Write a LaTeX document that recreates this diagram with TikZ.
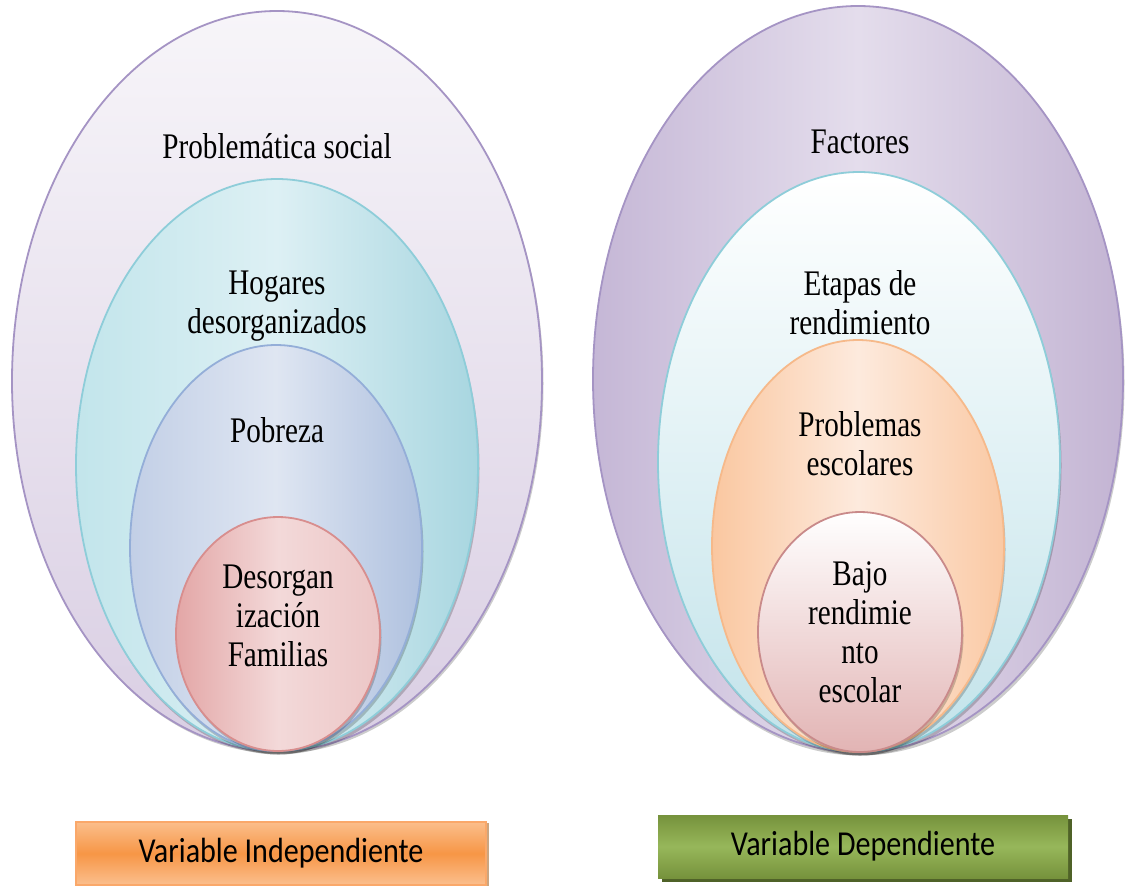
\documentclass[tikz,border=0pt]{standalone}
\usepackage{fontspec}
\setmainfont{Liberation Serif}[FakeStretch=0.81]
\newfontfamily\varfont{Carlito}[FakeStretch=0.86]
\usetikzlibrary{shadows}

\definecolor{lila}{HTML}{A594C4}
\definecolor{turq}{HTML}{8ECDD9}
\definecolor{azul}{HTML}{94AED8}
\definecolor{rojo}{HTML}{D88E8E}
\definecolor{rosa}{HTML}{C98A8A}
\definecolor{naranja}{HTML}{F6B98A}

\tikzset{
  ring/.style={line width=1.8pt},
  ringshadow/.style={fill=black, opacity=0.2},
  lbl/.style={font=\fontsize{36}{39}\selectfont, align=center, inner sep=0pt},
  varbox/.style={minimum width=410pt, minimum height=63pt, inner sep=0pt,
    font=\varfont\fontsize{35}{38}\selectfont},
}

\begin{document}
\begin{tikzpicture}[x=1pt,y=-1pt]
   \useasboundingbox (0,0) rectangle (1130,887);
   % Variable independiente
   \fill[ringshadow] (278.5,383.5) ellipse [x radius=265, y radius=370];
   \shade[ring,draw=lila,top color={rgb,255:red,247;green,245;blue,249},bottom color={rgb,255:red,217;green,206;blue,227}] (277,381) ellipse [x radius=265, y radius=370];
   \fill[ringshadow] (278.5,468.5) ellipse [x radius=201, y radius=286];
   \shade[ring,draw=turq,left color={rgb,255:red,194;green,229;blue,235},right color={rgb,255:red,168;green,214;blue,224},middle color={rgb,255:red,221;green,240;blue,244}] (277,465) ellipse [x radius=201, y radius=286];
   \fill[ringshadow] (277.5,551.5) ellipse [x radius=146, y radius=203];
   \shade[ring,draw=azul,left color={rgb,255:red,194;green,207;blue,230},right color={rgb,255:red,175;green,193;blue,223},middle color={rgb,255:red,223;green,230;blue,242}] (276,548) ellipse [x radius=146, y radius=203];
   \fill[ringshadow] (279.5,637.5) ellipse [x radius=102, y radius=117];
   \shade[ring,draw=rojo,left color={rgb,255:red,227;green,166;blue,166},right color={rgb,255:red,236;green,198;blue,198},middle color={rgb,255:red,243;green,217;blue,217}] (278,634) ellipse [x radius=102, y radius=117];
   % Variable dependiente
   \fill[ringshadow] (859.5,382.5) ellipse [x radius=265, y radius=373];
   \shade[ring,draw=lila,left color={rgb,255:red,197;green,183;blue,214},right color={rgb,255:red,195;green,180;blue,211},middle color={rgb,255:red,228;green,221;blue,236}] (858,379) ellipse [x radius=265, y radius=373];
   \fill[ringshadow] (860.5,465.5) ellipse [x radius=201, y radius=290];
   \shade[ring,draw=turq,top color=white,bottom color={rgb,255:red,194;green,227;blue,234}] (859,462) ellipse [x radius=201, y radius=290];
   \fill[ringshadow] (859.5,549.5) ellipse [x radius=146, y radius=206];
   \shade[ring,draw=naranja,left color={rgb,255:red,250;green,199;blue,160},right color={rgb,255:red,250;green,201;blue,164},middle color={rgb,255:red,253;green,234;blue,221}] (858,546) ellipse [x radius=146, y radius=206];
   \fill[ringshadow] (861.5,635.5) ellipse [x radius=102, y radius=120];
   \shade[ring,draw=rosa,top color=white,bottom color={rgb,255:red,226;green,180;blue,180}] (860,632) ellipse [x radius=102, y radius=120];
   % textos
   \node[lbl] (social)    at (277,146) {Problemática social};
   \node[lbl] (hogares)   at (277,306) {Hogares\\desorganizados};
   \node[lbl] (pobreza)   at (277,430) {Pobreza};
   \node[lbl] (desorg)    at (278,616) {Desorgan\\ización\\Familias};
   \node[lbl] (factores)  at (860,142) {Factores};
   \node[lbl] (etapas)    at (860,303) {Etapas de\\rendimiento};
   \node[lbl] (problemas) at (860,444) {Problemas\\escolares};
   \node[lbl] (bajo)      at (860,632) {Bajo\\rendimie\\nto\\escolar};
   % variables
   \node[varbox,draw={rgb,255:red,250;green,168;blue,106},line width=1.5pt,
         top color={rgb,255:red,251;green,190;blue,139},bottom color={rgb,255:red,251;green,191;blue,142},middle color={rgb,255:red,247;green,150;blue,70},
         drop shadow={shadow xshift=3pt,shadow yshift=-1pt,fill=orange!60!black,opacity=0.5}] (indep) at (281,853.5) {Variable Independiente};
   \node[varbox,top color={rgb,255:red,118;green,146;blue,60},bottom color={rgb,255:red,118;green,146;blue,60},middle color={rgb,255:red,151;green,183;blue,90},
         drop shadow={shadow xshift=4pt,shadow yshift=-4pt,fill={rgb,255:red,79;green,98;blue,40},opacity=1}] (dep) at (863,846.5) {Variable Dependiente};
\end{tikzpicture}
\end{document}
